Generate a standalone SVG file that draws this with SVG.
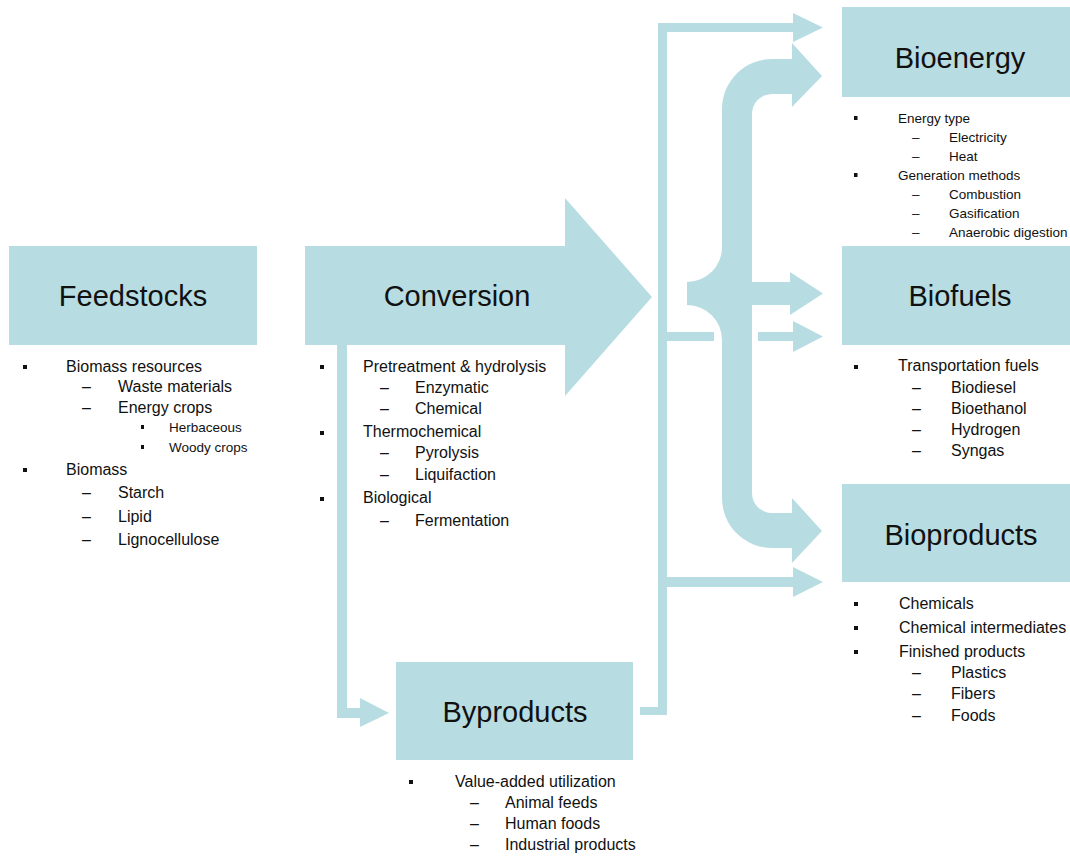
<svg xmlns="http://www.w3.org/2000/svg" width="1070" height="856" viewBox="0 0 1070 856">
<style>
.f{fill:#B7DDE2}
.t{font-family:"Liberation Sans",Arial,sans-serif;fill:#111}
.h{font-size:29px;text-anchor:middle}
.m{font-size:16px}
.s{font-size:13.5px}
.b{fill:#111}
</style>
<rect width="1070" height="856" fill="#fff"/>
<g id="connectors" class="f">
<!-- conversion to byproducts -->
<path d="M337 345 H347 V708 H360 V698 L389 713 L360 727 V718 H337 Z"/>
<!-- byproducts feedback line -->
<path d="M640 707 H658 V23 H793 V13 L823 27.5 L793 42 V32 H667 V332 H714 V341 H667 V577 H793 V567 L823 582 L793 597 V587 H667 V715 H640 Z"/>
<path d="M758 332 H793 V321 L823 336.5 L793 352 V341 H758 Z"/>
<!-- brace -->
<path d="M792 43 L822 76 L792 107 V94 H772 A20 20 0 0 0 752 114 V282 H790 V272 L823 293.5 L790 315 V305 H752 V493 A20 20 0 0 0 772 513 H792 V498 L822 531 L792 563 V548 H772 A50 50 0 0 1 722 498 V340 A35 35 0 0 0 687 305 V282 A35 35 0 0 0 722 247 V109 A50 50 0 0 1 772 59 H792 Z"/>
</g>
<g id="feedstocks">
<rect class="f" x="9" y="246" width="248" height="99"/>
<text class="t h" x="133" y="306">Feedstocks</text>
<rect class="b" x="23" y="365" width="4" height="4"/>
<text class="t m" x="66" y="372">Biomass resources</text>
<text class="t m" x="82" y="392">–</text><text class="t m" x="118" y="392">Waste materials</text>
<text class="t m" x="82" y="413">–</text><text class="t m" x="118" y="413">Energy crops</text>
<rect class="b" x="141" y="425" width="3" height="4"/>
<text class="t s" x="169" y="432">Herbaceous</text>
<rect class="b" x="141" y="445" width="3" height="4"/>
<text class="t s" x="169" y="452">Woody crops</text>
<rect class="b" x="23" y="468" width="4" height="4"/>
<text class="t m" x="66" y="475">Biomass</text>
<text class="t m" x="82" y="498">–</text><text class="t m" x="118" y="498">Starch</text>
<text class="t m" x="82" y="522">–</text><text class="t m" x="118" y="522">Lipid</text>
<text class="t m" x="82" y="545">–</text><text class="t m" x="118" y="545">Lignocellulose</text>
</g>
<g id="conversion">
<path class="f" d="M305 246 H565 V198 L652 297 L565 396 V345 H305 Z"/>
<text class="t h" x="457" y="306">Conversion</text>
<rect class="b" x="320" y="365" width="4" height="4"/>
<text class="t m" x="363" y="372">Pretreatment &amp; hydrolysis</text>
<text class="t m" x="380" y="393">–</text><text class="t m" x="415" y="393">Enzymatic</text>
<text class="t m" x="380" y="414">–</text><text class="t m" x="415" y="414">Chemical</text>
<rect class="b" x="320" y="431" width="4" height="4"/>
<text class="t m" x="363" y="437">Thermochemical</text>
<text class="t m" x="380" y="458">–</text><text class="t m" x="415" y="458">Pyrolysis</text>
<text class="t m" x="380" y="480">–</text><text class="t m" x="415" y="480">Liquifaction</text>
<rect class="b" x="320" y="497" width="4" height="4"/>
<text class="t m" x="363" y="503">Biological</text>
<text class="t m" x="380" y="526">–</text><text class="t m" x="415" y="526">Fermentation</text>
</g>
<g id="byproducts">
<rect class="f" x="396" y="662" width="237" height="98"/>
<text class="t h" x="515" y="722">Byproducts</text>
<rect class="b" x="409" y="780" width="4" height="4"/>
<text class="t m" x="455" y="787">Value-added utilization</text>
<text class="t m" x="470" y="808">–</text><text class="t m" x="505" y="808">Animal feeds</text>
<text class="t m" x="470" y="829">–</text><text class="t m" x="505" y="829">Human foods</text>
<text class="t m" x="470" y="850">–</text><text class="t m" x="505" y="850">Industrial products</text>
</g>
<g id="bioenergy">
<rect class="f" x="842" y="7" width="228" height="90"/>
<text class="t h" x="960" y="68">Bioenergy</text>
<rect class="b" x="854" y="116" width="3.5" height="4"/>
<text class="t s" x="898" y="123">Energy type</text>
<text class="t s" x="912" y="142">–</text><text class="t s" x="949" y="142">Electricity</text>
<text class="t s" x="912" y="161">–</text><text class="t s" x="949" y="161">Heat</text>
<rect class="b" x="854" y="173" width="3.5" height="4"/>
<text class="t s" x="898" y="180">Generation methods</text>
<text class="t s" x="912" y="199">–</text><text class="t s" x="949" y="199">Combustion</text>
<text class="t s" x="912" y="218">–</text><text class="t s" x="949" y="218">Gasification</text>
<text class="t s" x="912" y="237">–</text><text class="t s" x="949" y="237">Anaerobic digestion</text>
</g>
<g id="biofuels">
<rect class="f" x="842" y="246" width="228" height="99"/>
<text class="t h" x="960" y="306">Biofuels</text>
<rect class="b" x="854" y="365" width="4" height="4"/>
<text class="t m" x="898" y="371">Transportation fuels</text>
<text class="t m" x="912" y="393">–</text><text class="t m" x="951" y="393">Biodiesel</text>
<text class="t m" x="912" y="414">–</text><text class="t m" x="951" y="414">Bioethanol</text>
<text class="t m" x="912" y="435">–</text><text class="t m" x="951" y="435">Hydrogen</text>
<text class="t m" x="912" y="456">–</text><text class="t m" x="951" y="456">Syngas</text>
</g>
<g id="bioproducts">
<rect class="f" x="842" y="484" width="228" height="98"/>
<text class="t h" x="961" y="545">Bioproducts</text>
<rect class="b" x="854" y="602" width="4" height="4"/>
<text class="t m" x="899" y="609">Chemicals</text>
<rect class="b" x="854" y="626" width="4" height="4"/>
<text class="t m" x="899" y="633">Chemical intermediates</text>
<rect class="b" x="854" y="650" width="4" height="4"/>
<text class="t m" x="899" y="657">Finished products</text>
<text class="t m" x="912" y="678">–</text><text class="t m" x="951" y="678">Plastics</text>
<text class="t m" x="912" y="699">–</text><text class="t m" x="951" y="699">Fibers</text>
<text class="t m" x="912" y="721">–</text><text class="t m" x="951" y="721">Foods</text>
</g>
</svg>
